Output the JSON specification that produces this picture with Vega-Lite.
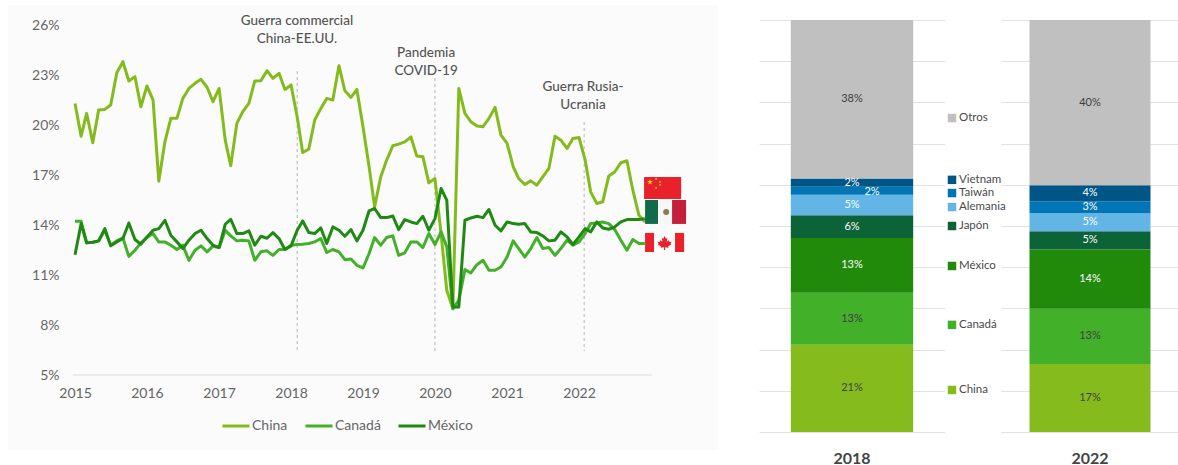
{"$schema":"https://vega.github.io/schema/vega-lite/v6.json","background":"white","padding":{"left":8,"top":5,"right":0,"bottom":0},"bounds":"flush","spacing":41,"resolve":{"scale":{"color":"independent"}},"config":{"font":"Lato","view":{"stroke":null}},
"datasets":{"meses":[
{"fecha":"2015-01","China":21.34,"Canadá":14.25,"México":12.24},{"fecha":"2015-02","China":19.37,"Canadá":14.25,"México":14.11},{"fecha":"2015-03","China":20.74,"Canadá":12.95,"México":12.95},{"fecha":"2015-04","China":18.97,"Canadá":12.99,"México":12.99},{"fecha":"2015-05","China":20.94,"Canadá":13.07,"México":13.07},{"fecha":"2015-06","China":20.98,"Canadá":13.71,"México":13.81},{"fecha":"2015-07","China":21.24,"Canadá":12.81,"México":12.77},{"fecha":"2015-08","China":23.19,"Canadá":13.07,"México":13.01},{"fecha":"2015-09","China":23.85,"Canadá":13.25,"México":13.21},{"fecha":"2015-10","China":22.69,"Canadá":12.14,"México":14.15},{"fecha":"2015-11","China":22.95,"Canadá":12.51,"México":13.15},{"fecha":"2015-12","China":21.14,"Canadá":12.95,"México":12.87},
{"fecha":"2016-01","China":22.39,"Canadá":13.27,"México":13.31},{"fecha":"2016-02","China":21.54,"Canadá":13.51,"México":13.71},{"fecha":"2016-03","China":16.66,"Canadá":13.01,"México":13.81},{"fecha":"2016-04","China":19.03,"Canadá":13.01,"México":14.31},{"fecha":"2016-05","China":20.44,"Canadá":12.81,"México":13.41},{"fecha":"2016-06","China":20.44,"Canadá":12.55,"México":13.01},{"fecha":"2016-07","China":21.64,"Canadá":12.81,"México":12.61},{"fecha":"2016-08","China":22.24,"Canadá":11.9,"México":13.11},{"fecha":"2016-09","China":22.55,"Canadá":12.51,"México":13.51},{"fecha":"2016-10","China":22.79,"Canadá":12.77,"México":13.71},{"fecha":"2016-11","China":22.31,"Canadá":12.41,"México":13.21},{"fecha":"2016-12","China":21.44,"Canadá":12.75,"México":12.81},
{"fecha":"2017-01","China":22.24,"Canadá":12.67,"México":12.67},{"fecha":"2017-02","China":19.13,"Canadá":13.71,"México":14.07},{"fecha":"2017-03","China":17.59,"Canadá":13.37,"México":14.37},{"fecha":"2017-04","China":20.14,"Canadá":13.07,"México":13.51},{"fecha":"2017-05","China":20.84,"Canadá":13.11,"México":13.51},{"fecha":"2017-06","China":21.34,"Canadá":13.07,"México":13.67},{"fecha":"2017-07","China":22.69,"Canadá":11.9,"México":12.81},{"fecha":"2017-08","China":22.71,"Canadá":12.41,"México":13.35},{"fecha":"2017-09","China":23.31,"Canadá":12.47,"México":13.23},{"fecha":"2017-10","China":22.85,"Canadá":12.2,"México":13.57},{"fecha":"2017-11","China":23.15,"Canadá":12.55,"México":13.21},{"fecha":"2017-12","China":22.18,"Canadá":12.55,"México":12.55},
{"fecha":"2018-01","China":22.45,"Canadá":12.81,"México":12.77},{"fecha":"2018-02","China":20.54,"Canadá":12.85,"México":13.71},{"fecha":"2018-03","China":18.39,"Canadá":12.87,"México":14.27},{"fecha":"2018-04","China":18.59,"Canadá":12.91,"México":13.57},{"fecha":"2018-05","China":20.34,"Canadá":13.01,"México":13.51},{"fecha":"2018-06","China":21.04,"Canadá":13.21,"México":13.85},{"fecha":"2018-07","China":21.64,"Canadá":12.37,"México":12.91},{"fecha":"2018-08","China":21.54,"Canadá":12.55,"México":13.91},{"fecha":"2018-09","China":23.61,"Canadá":12.41,"México":13.71},{"fecha":"2018-10","China":22.1,"Canadá":11.94,"México":13.35},{"fecha":"2018-11","China":21.7,"Canadá":11.98,"México":13.75},{"fecha":"2018-12","China":22.18,"Canadá":11.6,"México":13.07},
{"fecha":"2019-01","China":19.94,"Canadá":11.44,"México":13.71},{"fecha":"2019-02","China":17.53,"Canadá":12.31,"México":14.88},{"fecha":"2019-03","China":15.12,"Canadá":13.27,"México":15.02},{"fecha":"2019-04","China":16.92,"Canadá":12.81,"México":14.47},{"fecha":"2019-05","China":17.93,"Canadá":13.27,"México":14.47},{"fecha":"2019-06","China":18.79,"Canadá":13.37,"México":14.57},{"fecha":"2019-07","China":18.89,"Canadá":12.2,"México":13.75},{"fecha":"2019-08","China":19.03,"Canadá":12.35,"México":14.35},{"fecha":"2019-09","China":19.33,"Canadá":13.01,"México":14.21},{"fecha":"2019-10","China":18.17,"Canadá":13.01,"México":14.11},{"fecha":"2019-11","China":18.13,"Canadá":12.67,"México":14.55},{"fecha":"2019-12","China":16.56,"Canadá":13.51,"México":13.71},
{"fecha":"2020-01","China":16.82,"Canadá":12.85,"México":14.41},{"fecha":"2020-02","China":13.51,"Canadá":13.61,"México":16.22},{"fecha":"2020-03","China":10.1,"Canadá":12.71,"México":15.52},{"fecha":"2020-04","China":8.99,"Canadá":8.99,"México":9.09},{"fecha":"2020-05","China":22.24,"Canadá":9.49,"México":9.09},{"fecha":"2020-06","China":20.74,"Canadá":11.34,"México":14.31},{"fecha":"2020-07","China":20.24,"Canadá":11.14,"México":14.45},{"fecha":"2020-08","China":19.98,"Canadá":11.64,"México":14.55},{"fecha":"2020-09","China":19.94,"Canadá":11.9,"México":14.47},{"fecha":"2020-10","China":20.44,"Canadá":11.3,"México":14.96},{"fecha":"2020-11","China":21.1,"Canadá":11.3,"México":14.01},{"fecha":"2020-12","China":19.43,"Canadá":11.5,"México":13.67},
{"fecha":"2021-01","China":18.93,"Canadá":12.1,"México":14.21},{"fecha":"2021-02","China":17.53,"Canadá":13.07,"México":14.11},{"fecha":"2021-03","China":16.82,"Canadá":12.61,"México":14.07},{"fecha":"2021-04","China":16.46,"Canadá":12.1,"México":14.11},{"fecha":"2021-05","China":16.68,"Canadá":12.61,"México":13.61},{"fecha":"2021-06","China":16.42,"Canadá":13.27,"México":13.57},{"fecha":"2021-07","China":16.92,"Canadá":12.61,"México":13.37},{"fecha":"2021-08","China":17.43,"Canadá":12.67,"México":13.07},{"fecha":"2021-09","China":19.37,"Canadá":12.2,"México":13.11},{"fecha":"2021-10","China":19.13,"Canadá":12.61,"México":13.61},{"fecha":"2021-11","China":18.63,"Canadá":13.11,"México":13.31},{"fecha":"2021-12","China":19.23,"Canadá":12.81,"México":12.85},
{"fecha":"2022-01","China":19.29,"Canadá":13.01,"México":13.31},{"fecha":"2022-02","China":17.93,"Canadá":13.51,"México":13.81},{"fecha":"2022-03","China":16.02,"Canadá":14.11,"México":13.61},{"fecha":"2022-04","China":15.32,"Canadá":14.15,"México":14.21},{"fecha":"2022-05","China":15.42,"Canadá":14.21,"México":13.85},{"fecha":"2022-06","China":16.98,"Canadá":14.11,"México":13.77},{"fecha":"2022-07","China":17.22,"Canadá":13.75,"México":13.91},{"fecha":"2022-08","China":17.77,"Canadá":13.11,"México":14.21},{"fecha":"2022-09","China":17.89,"Canadá":12.51,"México":14.35},{"fecha":"2022-10","China":16.12,"Canadá":13.15,"México":14.35},{"fecha":"2022-11","China":14.61,"Canadá":12.91,"México":14.35},{"fecha":"2022-12","China":14.21,"Canadá":12.91,"México":14.41}],
"barras":[
{"anio":"2018","n":1,"serie":"China","v":21.2,"etiqueta":"21%"},{"anio":"2018","n":2,"serie":"Canadá","v":12.6,"etiqueta":"13%"},{"anio":"2018","n":3,"serie":"México","v":13.3,"etiqueta":"13%"},{"anio":"2018","n":4,"serie":"Japón","v":5.5,"etiqueta":"6%"},{"anio":"2018","n":5,"serie":"Alemania","v":5.0,"etiqueta":"5%"},{"anio":"2018","n":6,"serie":"Taiwán","v":1.9,"etiqueta":"2%"},{"anio":"2018","n":7,"serie":"Vietnam","v":2.0,"etiqueta":"2%"},{"anio":"2018","n":8,"serie":"Otros","v":38.5,"etiqueta":"38%"},
{"anio":"2022","n":1,"serie":"China","v":16.5,"etiqueta":"17%"},{"anio":"2022","n":2,"serie":"Canadá","v":13.4,"etiqueta":"13%"},{"anio":"2022","n":3,"serie":"México","v":14.4,"etiqueta":"14%"},{"anio":"2022","n":4,"serie":"Japón","v":4.4,"etiqueta":"5%"},{"anio":"2022","n":5,"serie":"Alemania","v":4.4,"etiqueta":"5%"},{"anio":"2022","n":6,"serie":"Taiwán","v":2.9,"etiqueta":"3%"},{"anio":"2022","n":7,"serie":"Vietnam","v":3.9,"etiqueta":"4%"},{"anio":"2022","n":8,"serie":"Otros","v":40.1,"etiqueta":"40%"}],
"leyenda":[{"serie":"China","p":10.2},{"serie":"Canadá","p":26},{"serie":"México","p":40.3},{"serie":"Japón","p":50},{"serie":"Alemania","p":54.6},{"serie":"Taiwán","p":58},{"serie":"Vietnam","p":61.2},{"serie":"Otros","p":76.2}]},
"hconcat":[
{"width":710,"height":445,"view":{"fill":"#fbfbfb","stroke":null},"resolve":{"scale":{"color":"independent"}},
"layer":[
{"data":{"values":[{"a":"2014-12-22","b":"2023-01-05","v":5}]},"mark":{"type":"rule","color":"#dcdcdc","strokeWidth":1},"encoding":{"x":{"field":"a","type":"temporal","scale":{"type":"utc","domain":[{"year":2014,"month":1,"date":26,"utc":true},{"year":2023,"month":12,"date":7,"utc":true}]},"axis":{"values":[{"year":2015,"utc":true},{"year":2016,"utc":true},{"year":2017,"utc":true},{"year":2018,"utc":true},{"year":2019,"utc":true},{"year":2020,"utc":true},{"year":2021,"utc":true},{"year":2022,"utc":true}],"format":"%Y","title":null,"domain":false,"ticks":false,"grid":false,"offset":-75,"labelPadding":11,"labelFontSize":14,"labelColor":"#666666","labelAngle":0,"labelFlush":false,"labelOverlap":false}},"x2":{"field":"b"},"y":{"field":"v","type":"quantitative","scale":{"domain":[0.49,27.26],"nice":false,"zero":false},"axis":{"values":[5,8,11,14,17,20,23,26],"labelExpr":"datum.value+'%'","title":null,"domain":false,"ticks":false,"grid":false,"offset":-51,"labelPadding":0,"labelFontSize":14,"labelColor":"#666666"}}}},
{"data":{"values":[{"a":"2018-02-01","p":23.29,"q":6.44},{"a":"2020-01-01","p":22.87,"q":6.44},{"a":"2022-01-27","p":20.22,"q":6.44}]},"mark":{"type":"rule","color":"#b5b5b5","strokeWidth":1,"strokeDash":[3,3]},"encoding":{"x":{"field":"a","type":"temporal"},"y":{"field":"p","type":"quantitative"},"y2":{"field":"q"}}},
{"data":{"name":"meses"},"transform":[{"fold":["China","Canadá","México"],"as":["serie","valor"]}],"mark":{"type":"line","strokeWidth":3,"strokeJoin":"round"},"encoding":{"x":{"field":"fecha","type":"temporal"},"y":{"field":"valor","type":"quantitative"},"color":{"field":"serie","type":"nominal","scale":{"domain":["China","Canadá","México"],"range":["#84bb1c","#43b02a","#1f8a13"]},"legend":{"orient":"none","legendX":213,"legendY":406,"direction":"horizontal","columns":3,"title":null,"symbolType":"stroke","symbolSize":729,"symbolStrokeWidth":3,"labelFontSize":14,"labelColor":"#666666","labelOffset":1,"columnPadding":11}}}},
{"data":{"values":[{"a":"2018-01-31","p":26.32,"t":"Guerra commercial\nChina-EE.UU."},{"a":"2019-11-17","p":24.39,"t":"Pandemia\nCOVID-19"},{"a":"2022-01-21","p":22.35,"t":"Guerra Rusia-\nUcrania"}]},"mark":{"type":"text","lineBreak":"\n","lineHeight":18,"fontSize":13.5,"fontWeight":500,"color":"#555555","align":"center","baseline":"middle"},"encoding":{"x":{"field":"a","type":"temporal"},"y":{"field":"p","type":"quantitative"},"text":{"field":"t"}}},
{"data":{"values":[{"parte":"China","a":"2022-11-27","b":"2023-06-03","p":16.91,"q":15.59},{"parte":"Mx verde","a":"2022-12-02","b":"2023-02-06","p":15.53,"q":14.09},{"parte":"Mx blanco","a":"2023-02-06","b":"2023-04-18","p":15.53,"q":14.09},{"parte":"Mx rojo","a":"2023-04-18","b":"2023-06-28","p":15.53,"q":14.09},{"parte":"Ca izq","a":"2022-12-02","b":"2023-01-17","p":13.55,"q":12.4},{"parte":"Ca centro","a":"2023-01-17","b":"2023-05-03","p":13.55,"q":12.4},{"parte":"Ca der","a":"2023-05-03","b":"2023-06-18","p":13.55,"q":12.4}]},"mark":{"type":"rect"},"encoding":{"x":{"field":"a","type":"temporal"},"x2":{"field":"b"},"y":{"field":"p","type":"quantitative"},"y2":{"field":"q"},"color":{"field":"parte","type":"nominal","legend":null,"scale":{"domain":["China","Mx verde","Mx blanco","Mx rojo","Ca izq","Ca centro","Ca der"],"range":["#e8212b","#0f6b4a","#f7f7f7","#c4203c","#e8212b","#fbfbfb","#e8212b"]}}}},
{"data":{"values":[{"a":"2022-12-27","p":16.61}]},"mark":{"type":"point","filled":true,"opacity":1,"color":"#f7d32a","size":36,"shape":"M0,-1L0.22,-0.31L0.95,-0.31L0.36,0.12L0.59,0.81L0,0.38L-0.59,0.81L-0.36,0.12L-0.95,-0.31L-0.22,-0.31Z"},"encoding":{"x":{"field":"a","type":"temporal"},"y":{"field":"p","type":"quantitative"}}},
{"data":{"values":[{"a":"2023-01-27","p":16.79},{"a":"2023-02-16","p":16.61},{"a":"2023-02-16","p":16.43},{"a":"2023-01-27","p":16.25}]},"mark":{"type":"point","filled":true,"opacity":1,"color":"#f7d32a","size":8,"shape":"M0,-1L0.22,-0.31L0.95,-0.31L0.36,0.12L0.59,0.81L0,0.38L-0.59,0.81L-0.36,0.12L-0.95,-0.31L-0.22,-0.31Z"},"encoding":{"x":{"field":"a","type":"temporal"},"y":{"field":"p","type":"quantitative"}}},
{"data":{"values":[{"a":"2023-03-19","p":14.81}]},"mark":{"type":"point","filled":true,"opacity":1,"color":"#8f7a52","size":36},"encoding":{"x":{"field":"a","type":"temporal"},"y":{"field":"p","type":"quantitative"}}},
{"data":{"values":[{"a":"2023-03-11","p":12.94}]},"mark":{"type":"point","filled":true,"opacity":1,"color":"#e8212b","size":200,"shape":"M0,-1L0.2,-0.6L0.4,-0.7L0.3,-0.2L0.6,-0.4L0.7,-0.15L1,-0.2L0.85,0.1L0.95,0.2L0.5,0.5L0.55,0.65L0.08,0.6L0.08,1L-0.08,1L-0.08,0.6L-0.55,0.65L-0.5,0.5L-0.95,0.2L-0.85,0.1L-1,-0.2L-0.7,-0.15L-0.6,-0.4L-0.3,-0.2L-0.4,-0.7L-0.2,-0.6Z"},"encoding":{"x":{"field":"a","type":"temporal"},"y":{"field":"p","type":"quantitative"}}}
]},
{"spacing":0,"bounds":"flush","resolve":{"scale":{"color":"independent"}},"hconcat":[
{"width":186,"height":445,"data":{"name":"barras"},"transform":[{"filter":"datum.anio==='2018'"},{"stack":"v","groupby":["anio"],"sort":[{"field":"n"}],"as":["y0","y1"]},{"calculate":"(datum.y0+datum.y1)/2","as":"ym"}],
"encoding":{"x":{"field":"anio","type":"nominal","scale":{"paddingInner":0,"paddingOuter":0.26},"axis":{"title":null,"domain":false,"ticks":false,"labelAngle":0,"labelFontSize":16,"labelFontWeight":"bold","labelColor":"#444444","labelPadding":0}}},
"layer":[
{"mark":{"type":"bar"},"encoding":{"y":{"field":"y0","type":"quantitative","scale":{"domain":[-4.37,103.64],"nice":false,"zero":false},"axis":{"values":[0,10,20,30,40,50,60,70,80,90,100],"grid":true,"gridColor":"#e2e2e2","labels":false,"ticks":false,"domain":false,"title":null,"minExtent":0,"maxExtent":0}},"y2":{"field":"y1"},"color":{"field":"serie","type":"nominal","legend":null,"scale":{"domain":["China","Canadá","México","Japón","Alemania","Taiwán","Vietnam","Otros"],"range":["#86bb1e","#43b02a","#218a0a","#0c6337","#62b5e5","#0076b6","#005587","#c0c0c0"]}}}},
{"transform":[{"filter":"datum.serie!=='Taiwán'"}],"mark":{"type":"text","fontSize":11},"encoding":{"y":{"field":"ym","type":"quantitative"},"text":{"field":"etiqueta"},"color":{"condition":{"test":"indexof(['China','Canadá','Otros'],datum.serie)>=0","value":"#3f3f3f"},"value":"#ffffff"}}},
{"transform":[{"filter":"datum.serie==='Taiwán'"}],"mark":{"type":"text","fontSize":11,"dx":20,"dy":1,"color":"#ffffff"},"encoding":{"y":{"field":"ym","type":"quantitative"},"text":{"field":"etiqueta"}}}
]},
{"width":56,"height":445,"data":{"name":"leyenda"},"encoding":{"x":{"datum":0,"type":"quantitative","scale":{"domain":[-7,49]},"axis":null},"y":{"field":"p","type":"quantitative","scale":{"domain":[-4.37,103.64],"nice":false,"zero":false},"axis":null}},
"layer":[
{"mark":{"type":"point","shape":"square","filled":true,"opacity":1,"size":72},"encoding":{"color":{"field":"serie","type":"nominal","legend":null,"scale":{"domain":["China","Canadá","México","Japón","Alemania","Taiwán","Vietnam","Otros"],"range":["#86bb1e","#43b02a","#218a0a","#0c6337","#62b5e5","#0076b6","#005587","#c0c0c0"]}}}},
{"mark":{"type":"text","align":"left","dx":7,"fontSize":11.5,"color":"#4a4a4a"},"encoding":{"text":{"field":"serie"}}}
]},
{"width":178,"height":445,"data":{"name":"barras"},"transform":[{"filter":"datum.anio==='2022'"},{"stack":"v","groupby":["anio"],"sort":[{"field":"n"}],"as":["y0","y1"]},{"calculate":"(datum.y0+datum.y1)/2","as":"ym"}],
"encoding":{"x":{"field":"anio","type":"nominal","scale":{"paddingInner":0,"paddingOuter":0.2355,"align":0.5},"axis":{"title":null,"domain":false,"ticks":false,"labelAngle":0,"labelFontSize":16,"labelFontWeight":"bold","labelColor":"#444444","labelPadding":0}}},
"layer":[
{"mark":{"type":"bar"},"encoding":{"y":{"field":"y0","type":"quantitative","scale":{"domain":[-4.37,103.64],"nice":false,"zero":false},"axis":{"values":[0,10,20,30,40,50,60,70,80,90,100],"grid":true,"gridColor":"#e2e2e2","labels":false,"ticks":false,"domain":false,"title":null,"minExtent":0,"maxExtent":0}},"y2":{"field":"y1"},"color":{"field":"serie","type":"nominal","legend":null,"scale":{"domain":["China","Canadá","México","Japón","Alemania","Taiwán","Vietnam","Otros"],"range":["#86bb1e","#43b02a","#218a0a","#0c6337","#62b5e5","#0076b6","#005587","#c0c0c0"]}}}},
{"mark":{"type":"text","fontSize":11},"encoding":{"y":{"field":"ym","type":"quantitative"},"text":{"field":"etiqueta"},"color":{"condition":{"test":"indexof(['China','Canadá','Otros'],datum.serie)>=0","value":"#3f3f3f"},"value":"#ffffff"}}}
]}
]}
]}
